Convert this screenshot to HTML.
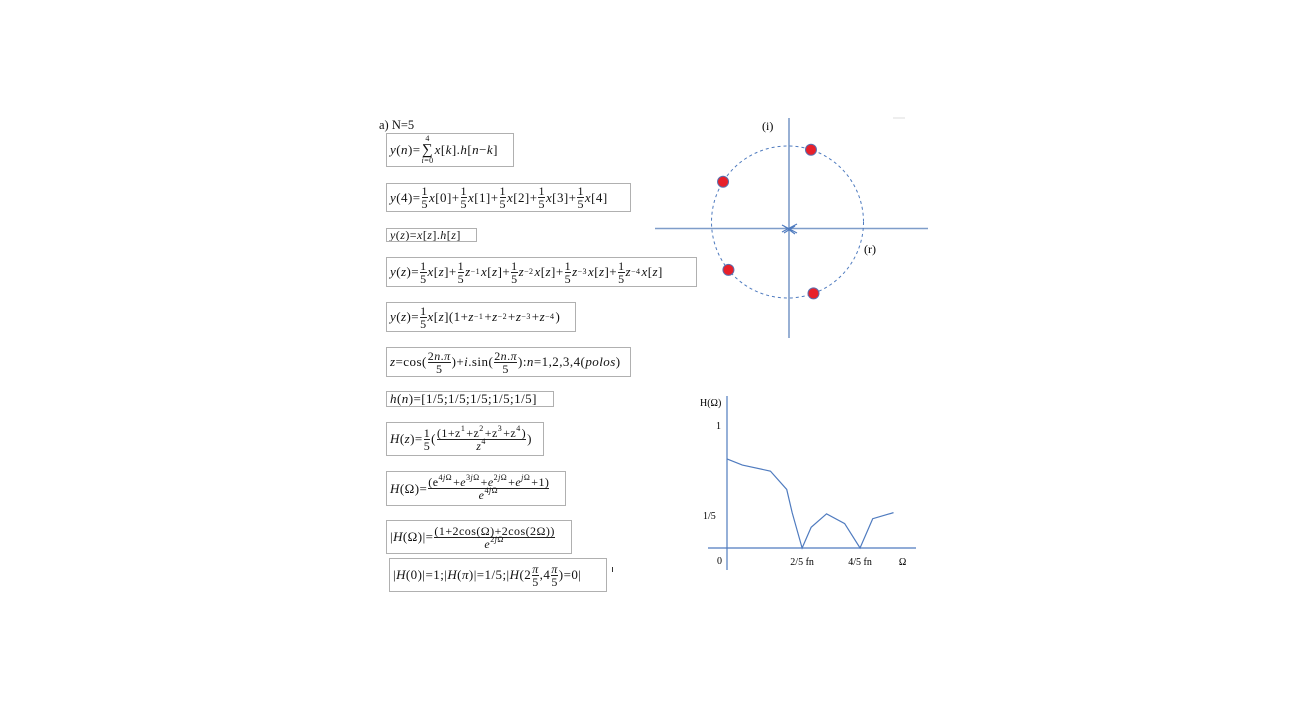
<!DOCTYPE html>
<html><head><meta charset="utf-8">
<style>
body{margin:0;width:1309px;height:713px;background:#fff;position:relative;overflow:hidden;font-family:"Liberation Serif",serif;color:#111}
.bx{position:absolute;border:1px solid #b0b0b0;box-sizing:border-box;white-space:nowrap;font-size:13px;letter-spacing:0.45px;display:flex;align-items:center;padding-left:3px;overflow:hidden}
i{font-style:italic}
.fr{display:inline-flex;flex-direction:column;vertical-align:middle;text-align:center;font-size:12px;line-height:12px;margin:0 1px}
.fr>span:first-child{border-bottom:1px solid #222}
sup{font-size:8px;vertical-align:6px;line-height:0;margin-right:1px}
.lbl{position:absolute;font-size:11px;white-space:nowrap}
</style></head><body>
<div class="lbl" style="left:379px;top:118px;font-size:12.5px">a) N=5</div>
<div class="bx" style="left:386px;top:133px;width:128px;height:34px"><i>y</i>(<i>n</i>)=<span class="fr" style="font-size:8px;line-height:8px"><span style="border:0">4</span><span style="font-size:15px;line-height:14px">∑</span><span><i>i</i>=0</span></span><i>x</i>[<i>k</i>].<i>h</i>[<i>n</i>−<i>k</i>]</div>
<div class="bx" style="left:386px;top:183px;width:245px;height:29px"><i>y</i>(4)=<span class="fr"><span>1</span><span>5</span></span><i>x</i>[0]+<span class="fr"><span>1</span><span>5</span></span><i>x</i>[1]+<span class="fr"><span>1</span><span>5</span></span><i>x</i>[2]+<span class="fr"><span>1</span><span>5</span></span><i>x</i>[3]+<span class="fr"><span>1</span><span>5</span></span><i>x</i>[4]</div>
<div class="bx" style="left:386px;top:228px;width:91px;height:14px;font-size:12px"><i>y</i>(<i>z</i>)=<i>x</i>[<i>z</i>].<i>h</i>[<i>z</i>]</div>
<div class="bx" style="left:386px;top:257px;width:311px;height:30px"><i>y</i>(<i>z</i>)=<span class="fr"><span>1</span><span>5</span></span><i>x</i>[<i>z</i>]+<span class="fr"><span>1</span><span>5</span></span><i>z</i><sup>−1</sup> <i>x</i>[<i>z</i>]+<span class="fr"><span>1</span><span>5</span></span><i>z</i><sup>−2</sup> <i>x</i>[<i>z</i>]+<span class="fr"><span>1</span><span>5</span></span><i>z</i><sup>−3</sup> <i>x</i>[<i>z</i>]+<span class="fr"><span>1</span><span>5</span></span><i>z</i><sup>−4</sup> <i>x</i>[<i>z</i>]</div>
<div class="bx" style="left:386px;top:302px;width:190px;height:30px"><i>y</i>(<i>z</i>)=<span class="fr"><span>1</span><span>5</span></span><i>x</i>[<i>z</i>](1+<i>z</i><sup>−1</sup>+<i>z</i><sup>−2</sup>+<i>z</i><sup>−3</sup>+<i>z</i><sup>−4</sup>)</div>
<div class="bx" style="left:386px;top:347px;width:245px;height:30px"><i>z</i>=cos(<span class="fr"><span>2<i>n</i>.<i>π</i></span><span>5</span></span>)+<i>i</i>.sin(<span class="fr"><span>2<i>n</i>.<i>π</i></span><span>5</span></span>):<i>n</i>=1,2,3,4(<i>polos</i>)</div>
<div class="bx" style="left:386px;top:391px;width:168px;height:16px"><i>h</i>(<i>n</i>)=[1/5;1/5;1/5;1/5;1/5]</div>
<div class="bx" style="left:386px;top:422px;width:158px;height:34px"><i>H</i>(<i>z</i>)=<span class="fr"><span>1</span><span>5</span></span>(<span class="fr"><span>(1+z<sup>1</sup>+z<sup>2</sup>+z<sup>3</sup>+z<sup>4</sup>)</span><span><i>z</i><sup>4</sup></span></span>)</div>
<div class="bx" style="left:386px;top:471px;width:180px;height:35px"><i>H</i>(Ω)=<span class="fr"><span>(e<sup>4<i>j</i>Ω</sup>+<i>e</i><sup>3<i>j</i>Ω</sup>+<i>e</i><sup>2<i>j</i>Ω</sup>+<i>e</i><sup><i>j</i>Ω</sup>+1)</span><span><i>e</i><sup>4<i>j</i>Ω</sup></span></span></div>
<div class="bx" style="left:386px;top:520px;width:186px;height:34px">|<i>H</i>(Ω)|=<span class="fr"><span>(1+2cos(Ω)+2cos(2Ω))</span><span><i>e</i><sup>2<i>j</i>Ω</sup></span></span></div>
<div class="bx" style="left:389px;top:558px;width:218px;height:34px">|<i>H</i>(0)|=1;|<i>H</i>(<i>π</i>)|=1/5;|<i>H</i>(2<span class="fr"><span><i>π</i></span><span>5</span></span>,4<span class="fr"><span><i>π</i></span><span>5</span></span>)=0|</div>
<div style="position:absolute;left:612px;top:567px;width:1px;height:5px;background:#333"></div>

<svg width="1309" height="713" style="position:absolute;left:0;top:0">
<g id="pz"></g>
<g id="fr"></g>
</svg>
<script>
const poleAngles=[72,148,219,290];
const unitRadius=1;
const respX=[0,0.085,0.24,0.33,0.36,0.415,0.465,0.55,0.65,0.735,0.805,0.92];
const respY=[0.73,0.68,0.63,0.48,0.29,0,0.17,0.28,0.2,0,0.24,0.29];
const yTicks=[{v:1,t:"1"},{v:0.2,t:"1/5"},{v:0,t:"0"}];
const xTicks=[{v:0.415,t:"2/5 fn"},{v:0.735,t:"4/5 fn"},{v:0.97,t:"Ω"}];
const NS="http://www.w3.org/2000/svg";
function mk(p,tag,a){const e=document.createElementNS(NS,tag);for(const k in a)e.setAttribute(k,a[k]);p.appendChild(e);return e;}
const blue="#4f7bbf";
const pz=document.getElementById('pz');
const cx=787.5,cy=222,R=76;
let e;
e=mk(pz,'line',{x1:655,y1:228.5,x2:928,y2:228.5,stroke:"#7f9dc9","stroke-width":1.6});

e=mk(pz,'line',{x1:789,y1:118,x2:789,y2:338,stroke:"#7f9dc9","stroke-width":1.6});

e=mk(pz,'circle',{cx:cx,cy:cy,r:R*unitRadius,fill:"none",stroke:blue,"stroke-width":1,"stroke-dasharray":"3,3"});

e=mk(pz,'path',{d:"M782,225 L797,233 M782,232 L797,224 M784,226 L795,234 M784,233 L795,226",stroke:blue,"stroke-width":1.2,fill:"none"});

poleAngles.forEach(a=>{const r=a*Math.PI/180;const c=mk(pz,'circle',{cx:cx+R*Math.cos(r),cy:cy-R*Math.sin(r),r:5.5,fill:"#e8202a",stroke:"#5a6fae","stroke-width":1});

});
e=mk(pz,'text',{x:762,y:130,"font-size":12,"font-family":"Liberation Serif"});e.textContent="(i)";

e=mk(pz,'text',{x:864,y:253,"font-size":12,"font-family":"Liberation Serif"});e.textContent="(r)";

e=mk(pz,'line',{x1:893,y1:118,x2:905,y2:118,stroke:"#ddd","stroke-width":1});
const fr=document.getElementById('fr');
const sx=v=>727+v*181, sy=v=>548-v*122;
e=mk(fr,'line',{x1:727,y1:396,x2:727,y2:570,stroke:blue,"stroke-width":1.2});

e=mk(fr,'line',{x1:708,y1:548,x2:916,y2:548,stroke:blue,"stroke-width":1.2});

e=mk(fr,'polyline',{points:respX.map((x,i)=>sx(x)+","+sy(respY[i])).join(" "),fill:"none",stroke:blue,"stroke-width":1.2});

yTicks.forEach(t=>{const tx=mk(fr,'text',{x:t.v===0?717:(t.t.length>1?703:716),y:sy(t.v)+16,"font-size":10,"font-family":"Liberation Serif"});
if(t.v===1)tx.setAttribute('y',429);if(t.v===0.2)tx.setAttribute('y',519);
tx.textContent=t.t;

});
xTicks.forEach(t=>{const tx=mk(fr,'text',{x:sx(t.v),y:565,"font-size":10,"text-anchor":"middle","font-family":"Liberation Serif"});
tx.textContent=t.t;

});
e=mk(fr,'text',{x:700,y:406,"font-size":10,"font-family":"Liberation Serif"});e.textContent="H(Ω)";

</script>
</body></html>
